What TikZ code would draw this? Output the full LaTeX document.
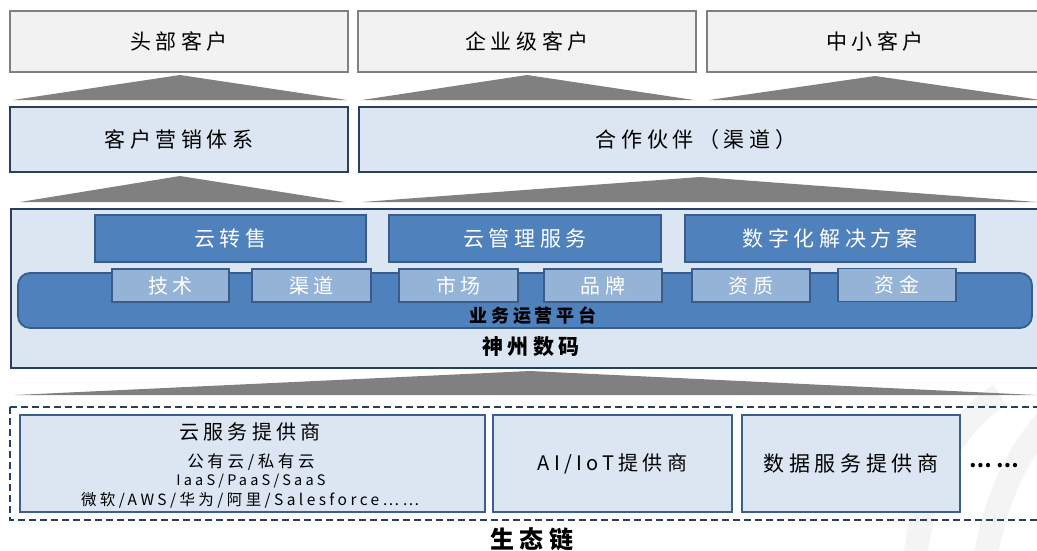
\documentclass[tikz,border=0pt]{standalone}
\usepackage{fontspec}
\setmainfont[LetterSpace=22]{Noto Sans CJK SC}
\usetikzlibrary{calc}
\definecolor{topfill}{HTML}{F2F2F2}
\definecolor{topline}{HTML}{808080}
\definecolor{tri}{HTML}{808080}
\definecolor{lblue}{HTML}{DCE6F2}
\definecolor{navy}{HTML}{263F63}
\definecolor{mblue}{HTML}{4F81BD}
\definecolor{mline}{HTML}{385D8A}
\definecolor{sblue}{HTML}{95B3D7}
\definecolor{bline}{HTML}{3E5F8C}
\definecolor{wm}{HTML}{F4F4F4}
\tikzset{
  box/.style={draw, rectangle, inner sep=0pt, font=\fontsize{21}{23}\selectfont},
  topbox/.style={box, fill=topfill, draw=topline, line width=2pt},
  midbox/.style={box, fill=lblue, draw=navy, line width=2pt},
  svcbox/.style={box, fill=mblue, draw=mline, line width=1.8pt, text=white},
  smallbox/.style={box, fill=sblue, draw=mline, line width=1.8pt, text=white, font=\fontsize{20}{22}\selectfont},
  botbox/.style={box, fill=lblue, draw=bline, line width=2.5pt},
  wedge/.style={fill=tri, draw=none},
  lbl/.style={inner sep=0pt},
}
\begin{document}
\begin{tikzpicture}[x=1pt,y=-1pt]
\useasboundingbox (0,0) rectangle (1037,550);
% faint watermark
\draw[wm, line width=24pt] (985,560) .. controls (1000,470) and (1040,420) .. (1080,390);
\draw[wm, line width=24pt] (915,560) .. controls (925,470) and (960,420) .. (1000,395);
% top row
\node[topbox, minimum width=338pt, minimum height=61pt] (t1) at (179,41.5) {头部客户};
\node[topbox, minimum width=338pt, minimum height=61pt] (t2) at (527,41.5) {企业级客户};
\node[topbox, minimum width=336pt, minimum height=61pt] (t3) at (875,41.5) {中小客户};
% wedges top
\fill[wedge] (13,100) -- (180,75) -- (347,100) -- cycle;
\fill[wedge] (362,100) -- (527,75) -- (694,100) -- cycle;
\fill[wedge] (709,100) -- (875,76) -- (1041,100) -- cycle;
% middle row
\node[midbox, minimum width=338pt, minimum height=65pt] (m1) at (179,139.5) {客户营销体系};
\node[midbox, minimum width=685pt, minimum height=65pt, anchor=west] (m2) at (358,139.5) {};
\node[lbl, font=\fontsize{21}{23}\selectfont] (m2t) at (696,139.5) {合作伙伴（渠道）};
% wedges middle
\fill[wedge] (20,202) -- (180,176) -- (345,202) -- cycle;
\fill[wedge] (362,202) -- (700,177) -- (1037,202) -- cycle;
% big box
\node[midbox, minimum width=1035pt, minimum height=159pt, anchor=north west] (big) at (10,208) {};
\node[lbl, font=\bfseries\fontsize{21}{23}\selectfont] (bigt) at (531,347) {神州数码};
% platform
\draw[fill=mblue, draw=mline, line width=1.8pt, rounded corners=12pt] (18,273) rectangle (1032,328);
\node[lbl, font=\bfseries\fontsize{18}{20}\selectfont] (plat) at (533,316) {业务运营平台};
% service boxes
\node[svcbox, minimum width=271pt, minimum height=47pt] (s1) at (230.5,238.5) {云转售};
\node[svcbox, minimum width=272pt, minimum height=47pt] (s2) at (525,238.5) {云管理服务};
\node[svcbox, minimum width=290pt, minimum height=47pt] (s3) at (830,238.5) {数字化解决方案};
% small boxes
\node[smallbox, minimum width=117pt, minimum height=33pt] (k1) at (170.5,285.5) {技术};
\node[smallbox, minimum width=119pt, minimum height=33pt] (k2) at (311.5,285.5) {渠道};
\node[smallbox, minimum width=119pt, minimum height=33pt] (k3) at (458.5,285.5) {市场};
\node[smallbox, minimum width=118pt, minimum height=33pt] (k4) at (603,285.5) {品牌};
\node[smallbox, minimum width=118pt, minimum height=33pt] (k5) at (751,285.5) {资质};
\node[smallbox, minimum width=118pt, minimum height=33pt] (k6) at (897,285) {资金};
% wedge bottom
\fill[wedge] (15,395) -- (530,371) -- (1036,395) -- cycle;
% dashed ecosystem
\draw[navy, line width=2pt, dash pattern=on 7pt off 4pt] (10,407) rectangle (1050,520);
\node[botbox, minimum width=465pt, minimum height=97pt] (b1) at (252.5,463.5) {};
\node[lbl, font=\fontsize{20}{22}\selectfont] (b1t) at (250,432) {云服务提供商};
\node[lbl, font=\fontsize{16.5}{18}\selectfont] (b1a) at (251,462) {公有云/私有云};
\node[lbl, font=\fontsize{14.5}{16}\selectfont] (b1b) at (251,481) {IaaS/PaaS/SaaS};
\node[lbl, font=\fontsize{15.5}{17}\selectfont] (b1c) at (250,500) {微软/AWS/华为/阿里/Salesforce……};
\node[botbox, minimum width=239pt, minimum height=97pt, font=\fontsize{20}{22}\selectfont] (b2) at (612.5,463.5) {AI/IoT提供商};
\node[botbox, minimum width=218pt, minimum height=97pt] (b3) at (851,463.5) {数据服务提供商};
\node[lbl, font=\bfseries\fontsize{20}{22}\selectfont] (dots) at (994,466) {……};
\node[lbl, font=\bfseries\fontsize{24}{26}\selectfont] (eco) at (532,539) {生态链};
\end{tikzpicture}
\end{document}
